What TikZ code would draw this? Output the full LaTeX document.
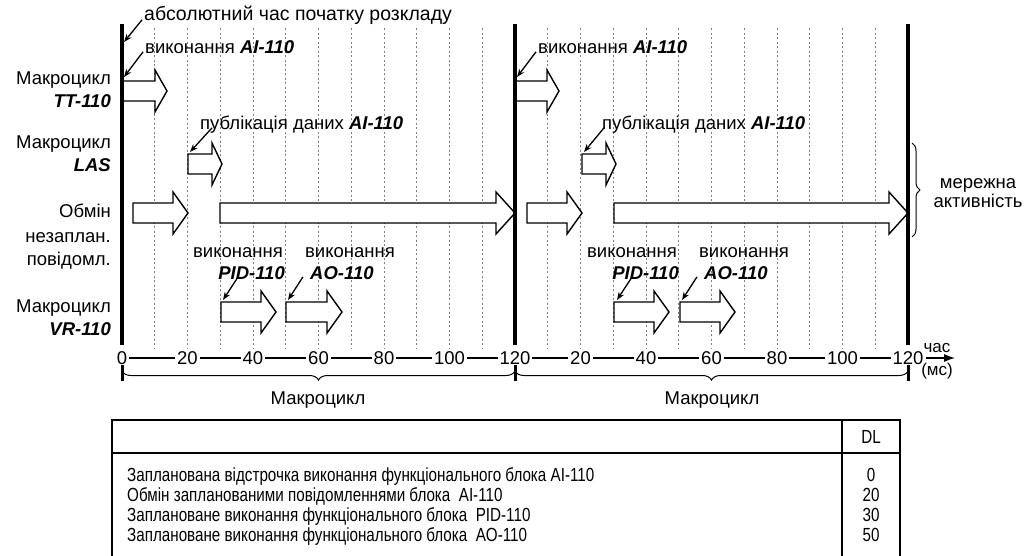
\documentclass[tikz,border=0pt]{standalone}
\usepackage{fontspec}
\setmainfont{Liberation Sans}
\newfontfamily\narrowfont{Liberation Sans}[FakeStretch=0.8]
\usetikzlibrary{arrows.meta,decorations.pathreplacing}
\newcommand{\bi}[1]{\textbf{\textit{#1}}}
\newcommand{\blkarrow}[4]{%
  \filldraw[blk] (#1,#3-10) -- (#2-#4,#3-10) -- (#2-#4,#3-21) -- (#2,#3) -- (#2-#4,#3+21) -- (#2-#4,#3+10) -- (#1,#3+10) -- cycle;}
\begin{document}
\begin{tikzpicture}[x=1pt,y=-1pt,
  lbl/.style={inner sep=0pt, text height=13.3pt, text depth=0pt, font=\fontsize{18.5}{20}\selectfont},
  small/.style={inner sep=0pt, text height=12pt, text depth=0pt, font=\fontsize{17}{18}\selectfont},
  tbltext/.style={inner sep=0pt, text height=13pt, text depth=0pt, font=\narrowfont\fontsize{19}{20}\selectfont},
  blk/.style={draw=black, fill=white, line width=1.4pt, line join=miter},
  grid/.style={black!50, line width=0.6pt, dash pattern=on 2pt off 2.5pt},
  thick line/.style={line width=3.5pt},
  ann/.style={line width=1.3pt, -{Stealth[length=8pt,width=6pt]}},
  tbl/.style={line width=1.4pt}]
\useasboundingbox (0,0) rectangle (1028,555);
% grid
\foreach \t in {10,20,...,110,130,140,...,230}
  \draw[grid] ({122+3.275*\t},28) -- ++(0,320);
% block arrows, cycle 1
\blkarrow{122}{167}{91}{12}
\blkarrow{188}{222}{164}{10}
\blkarrow{133}{188}{213}{15}
\blkarrow{220}{515}{213}{19}
\blkarrow{221}{276}{312}{15}
\blkarrow{286}{342}{312}{15}
% block arrows, cycle 2
\blkarrow{515}{559}{91}{12}
\blkarrow{582}{616}{164}{10}
\blkarrow{527}{582}{213}{15}
\blkarrow{614}{908}{213}{19}
\blkarrow{614}{669}{312}{15}
\blkarrow{680}{735}{312}{15}
% thick lines
\draw[thick line] (122,24) -- (122,345);
\draw[thick line] (515,24) -- (515,345);
\draw[thick line] (908,24) -- (908,345);
\foreach \x in {122,515,908}
  \draw[line width=3pt] (\x,365) -- (\x,381);
% left labels
\node[lbl, anchor=east] (m1) at (111,78) {Макроцикл};
\node[lbl, anchor=east] (tt) at (111,101) {\bi{TT-110}};
\node[lbl, anchor=east] (m2) at (111,142) {Макроцикл};
\node[lbl, anchor=east] (las) at (111,165) {\bi{LAS}};
\node[lbl, anchor=east] (ob1) at (111,211) {Обмін};
\node[lbl, anchor=east] (ob2) at (111,236) {незаплан.};
\node[lbl, anchor=east] (ob3) at (111,259) {повідомл.};
\node[lbl, anchor=east] (m3) at (111,306) {Макроцикл};
\node[lbl, anchor=east] (vr) at (111,329) {\bi{VR-110}};
% annotations cycle 1
\node[lbl, anchor=west, font=\fontsize{19.5}{20}\selectfont] (abs) at (144,14) {абсолютний час початку розкладу};
\node[lbl, anchor=west] (vai1) at (145,47) {виконання \bi{AI-110}};
\node[lbl, anchor=west] (pub1) at (200,123) {публікація даних \bi{AI-110}};
\node[lbl] (vpida1) at (238,251) {виконання};
\node[lbl, anchor=east] (vpidb1) at (285,273) {\bi{PID-110}};
\node[lbl] (vaoa1) at (350,251) {виконання};
\node[lbl, anchor=west] (vaob1) at (310,273) {\bi{AO-110}};
\coordinate (c-abs) at (124,42);
\coordinate (c-vai1) at (124,77);
\coordinate (c-pub1) at (190,152);
\coordinate (c-pid1) at (223,300);
\coordinate (c-ao1) at (288,300);
\draw[ann] ([xshift=-2pt,yshift=1pt]abs.south west) -- (c-abs);
\draw[ann] ([xshift=-2pt,yshift=2pt]vai1.south west) -- (c-vai1);
\draw[ann] ([xshift=12pt,yshift=2pt]pub1.south west) -- (c-pub1);
\draw[ann] ([xshift=20pt,yshift=3pt]vpidb1.south west) -- (c-pid1);
\draw[ann] ([xshift=-7pt,yshift=3pt]vaob1.south west) -- (c-ao1);
% annotations cycle 2
\node[lbl, anchor=west] (vai2) at (538,47) {виконання \bi{AI-110}};
\node[lbl, anchor=west] (pub2) at (602,123) {публікація даних \bi{AI-110}};
\node[lbl] (vpida2) at (632,251) {виконання};
\node[lbl, anchor=east] (vpidb2) at (679,273) {\bi{PID-110}};
\node[lbl] (vaoa2) at (744,251) {виконання};
\node[lbl, anchor=west] (vaob2) at (704,273) {\bi{AO-110}};
\coordinate (c-vai2) at (517,77);
\coordinate (c-pub2) at (584,152);
\coordinate (c-pid2) at (617,300);
\coordinate (c-ao2) at (682,300);
\draw[ann] ([xshift=-2pt,yshift=2pt]vai2.south west) -- (c-vai2);
\draw[ann] ([xshift=2pt,yshift=2pt]pub2.south west) -- (c-pub2);
\draw[ann] ([xshift=20pt,yshift=3pt]vpidb2.south west) -- (c-pid2);
\draw[ann] ([xshift=-7pt,yshift=3pt]vaob2.south west) -- (c-ao2);
% network activity brace
\coordinate (nb1) at (912,143);
\coordinate (nb2) at (912,237);
\draw[line width=1pt, decorate, decoration={brace, amplitude=8pt}] (nb1) -- (nb2);
\node[lbl, align=center, text height=, text depth=, font=\fontsize{18.5}{17}\selectfont] (net) at (978,193) {мережна\\активність};
% time axis
\draw[line width=1.2pt] (122,358) -- (908,358);
\foreach \t/\lab/\nm in {0/0/a0,20/20/a1,40/40/a2,60/60/a3,80/80/a4,100/100/a5,120/120/a6,140/20/b1,160/40/b2,180/60/b3,200/80/b4,220/100/b5,240/120/b6}
  \node[lbl, fill=white, inner xsep=2pt] (\nm) at ({122+3.275*\t},358) {\lab};
\coordinate (axend) at (955,358);
\draw[line width=1.2pt, -{Latex[length=11pt,width=8pt]}] (b6.east) -- (axend);
\node[small] (chas) at (937,346) {час};
\node[small] (ms) at (937,369) {(мс)};
% macrocycle braces
\coordinate (mb0) at (122,371);
\coordinate (mb1) at (515,371);
\coordinate (mb2) at (908,371);
\draw[line width=1pt, decorate, decoration={brace, amplitude=9pt, mirror}] (mb0) -- (mb1);
\draw[line width=1pt, decorate, decoration={brace, amplitude=9pt, mirror}] (mb1) -- (mb2);
\node[lbl] (mc1) at (318,398) {Макроцикл};
\node[lbl] (mc2) at (712,398) {Макроцикл};
% table
\draw[tbl] (112,556) -- (112,420) -- (900,420) -- (900,556);
\draw[tbl] (112,453) -- (900,453);
\draw[tbl] (842,420) -- (842,556);
\node[tbltext] (dl) at (871,437) {DL};
\node[tbltext, anchor=west] (r1) at (127,475) {Запланована відстрочка виконання функціонального блока AI-110};
\node[tbltext, anchor=west] (r2) at (127,495) {Обмін запланованими повідомленнями блока\ \ AI-110};
\node[tbltext, anchor=west] (r3) at (127,515) {Заплановане виконання функціонального блока\ \ PID-110};
\node[tbltext, anchor=west] (r4) at (127,535) {Заплановане виконання функціонального блока\ \ AO-110};
\node[tbltext] (v1) at (871,475) {0};
\node[tbltext] (v2) at (871,495) {20};
\node[tbltext] (v3) at (871,515) {30};
\node[tbltext] (v4) at (871,535) {50};
\end{tikzpicture}
\end{document}
